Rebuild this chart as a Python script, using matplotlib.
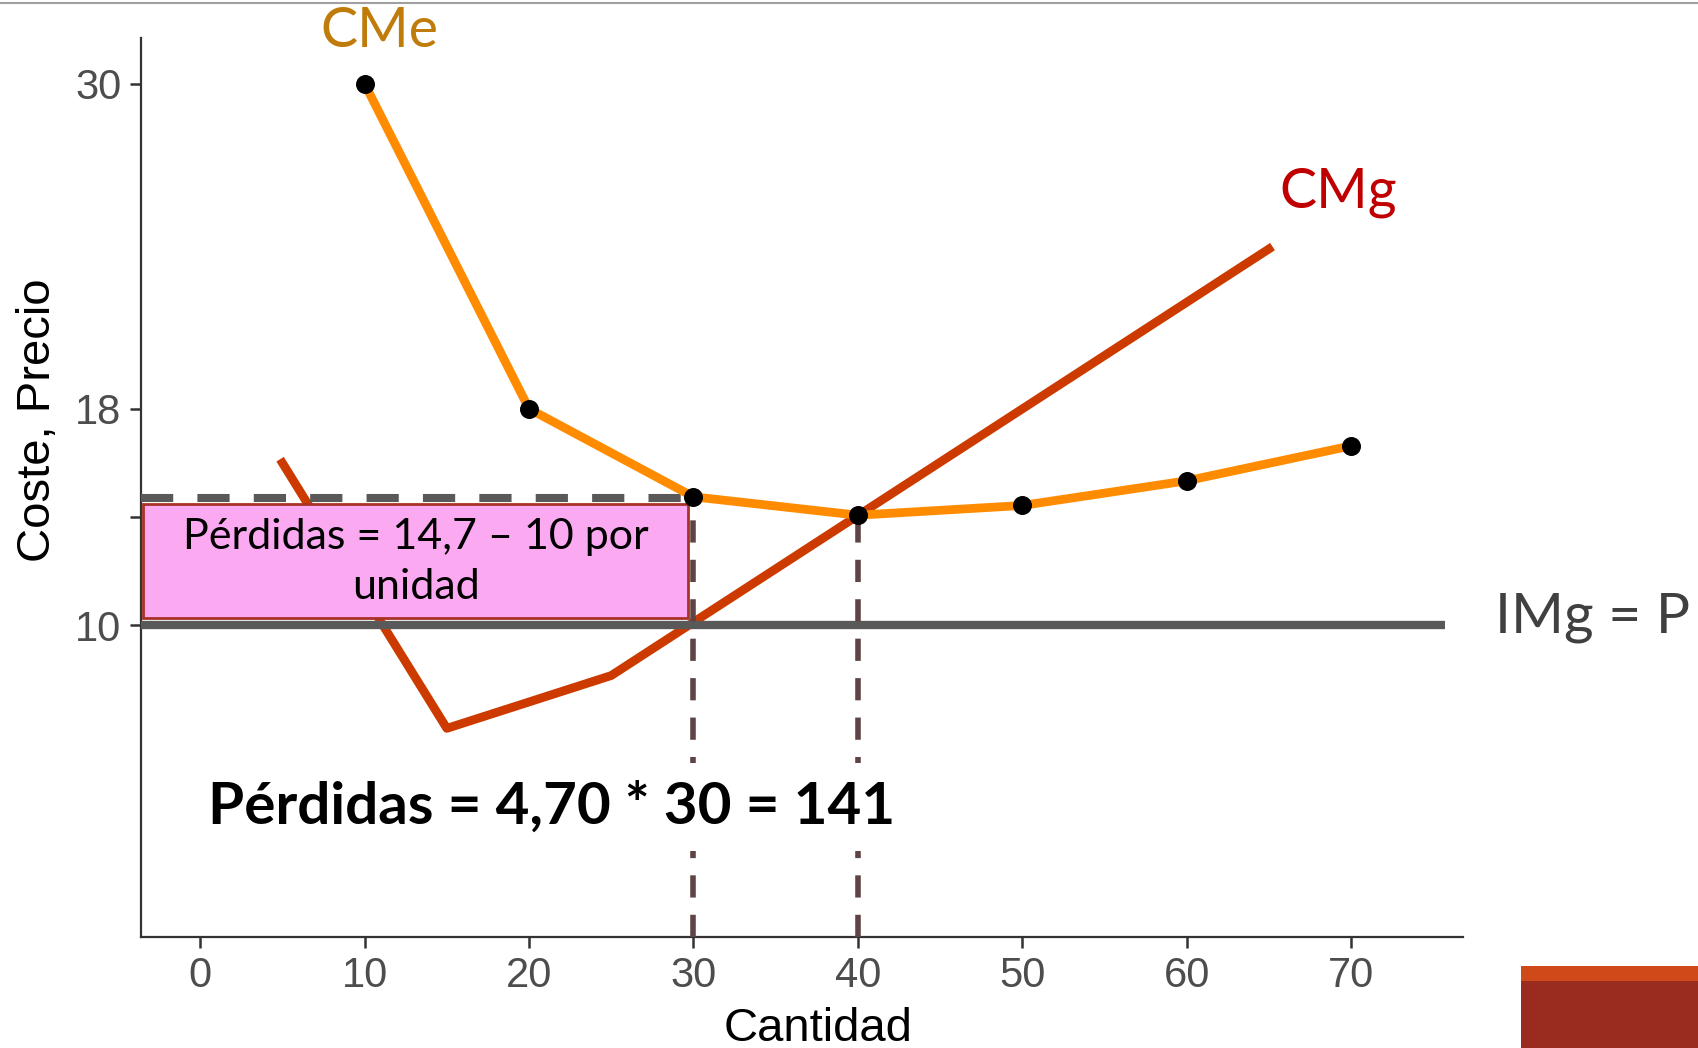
import numpy as np
import matplotlib
matplotlib.use('Agg')
import matplotlib.pyplot as plt
from matplotlib.patches import Rectangle
from matplotlib.lines import Line2D

# data
cme_q = [10, 20, 30, 40, 50, 60, 70]
cme_c = [30, 18, 14.75, 14.07, 14.43, 15.34, 16.63]

cmg_q = [5, 15, 25, 65]
cmg_c = [16.0, 6.2, 8.15, 23.9]

precio = 10
perdida_unit = 14.7
q_opt = 30
q_min = 40

x_ticks = [0, 10, 20, 30, 40, 50, 60, 70]
y_ticks = [10, 14, 18, 30]
y_ticklabels = ['10', '', '18', '30']

fig = plt.figure(figsize=(16.99, 10.48), dpi=100)
ax = fig.add_axes([0.083, 0.106, 0.778, 0.858])

ax.set_xlim(-3.6, 76.8)
ax.set_ylim(-1.5, 31.7)

# marginal cost (goes under the box and the price line)
ax.plot(cmg_q, cmg_c, color='#cc3a00', lw=6.3, zorder=3)

# price line
ax.plot([-3.6, 75.7], [precio, precio], color='#595959', lw=6, solid_capstyle='butt', zorder=4)

# losses box
ax.add_patch(Rectangle((-3.5, 10.27), 33.2, 4.23, facecolor='#fba9f1',
                       edgecolor='#a93226', lw=2, zorder=5))
ax.plot([-3.6, q_opt], [perdida_unit, perdida_unit], color='#595959', lw=5.8,
        ls=(0, (4, 3)), zorder=5)
ax.text(13.1, 12.35, 'Pérdidas = 14,7 – 10 por\nunidad', ha='center', va='center',
        fontsize=31, family='Lato', linespacing=1.4, zorder=6)

# dashed helper lines
dcol = '#5e4444'
ax.plot([q_opt, q_opt], [-1.5, perdida_unit], color=dcol, lw=4, ls=(0, (4, 3.1)), zorder=5.5)
ax.plot([q_min, q_min], [-1.5, cme_c[3]], color=dcol, lw=4, ls=(0, (4, 3.1)), zorder=5.5)

# average cost
ax.plot(cme_q, cme_c, color='#ff8c00', lw=6.3, zorder=6)
ax.scatter(cme_q, cme_c, s=160, color='black', zorder=7)

ax.text(21.4, 3.3, 'Pérdidas = 4,70 * 30 = 141', ha='center', va='center',
        fontsize=42, fontweight='bold', family='Lato', zorder=8,
        bbox=dict(boxstyle='square,pad=0.3', fc='white', ec='none'))

# labels on the curves
ax.text(10.9, 31.0, 'CMe', color='#bf7c0a', fontsize=40, family='Lato',
        ha='center', va='bottom', clip_on=False)
ax.text(69.2, 26.0, 'CMg', color='#c00000', fontsize=40, family='Lato',
        ha='center', va='center', clip_on=False)
ax.text(84.7, 10.3, 'IMg = P', color='#404040', fontsize=41, family='Lato',
        ha='center', va='center', clip_on=False)

# axes style
for s in ['top', 'right']:
    ax.spines[s].set_visible(False)
for s in ['left', 'bottom']:
    ax.spines[s].set_color('#333333')
    ax.spines[s].set_linewidth(1.6)
ax.set_xticks(x_ticks)
ax.set_yticks(y_ticks)
ax.set_yticklabels(y_ticklabels)
ax.tick_params(length=8, width=1.8, color='#333333', labelcolor='#4d4d4d',
               labelsize=30, pad=6)
for lab in ax.get_xticklabels() + ax.get_yticklabels():
    lab.set_family('Liberation Sans')

ax.set_xlabel('Cantidad', fontsize=34, family='Liberation Sans')
ax.set_ylabel('Coste, Precio', fontsize=34, family='Liberation Sans')
ax.xaxis.set_label_coords(0.512, -0.078)
ax.yaxis.set_label_coords(-0.061, 0.575)

# slide decorations
fig.add_artist(Line2D([0, 1], [0.997, 0.997], color='#a0a0a0', lw=1.5))
fig.add_artist(Rectangle((0.895, 0.0), 0.105, 0.064, facecolor='#9a2b1f',
                         edgecolor='none', transform=fig.transFigure))
fig.add_artist(Rectangle((0.895, 0.064), 0.105, 0.014, facecolor='#d04a19',
                         edgecolor='none', transform=fig.transFigure))

fig.savefig('out.png', dpi=100)
